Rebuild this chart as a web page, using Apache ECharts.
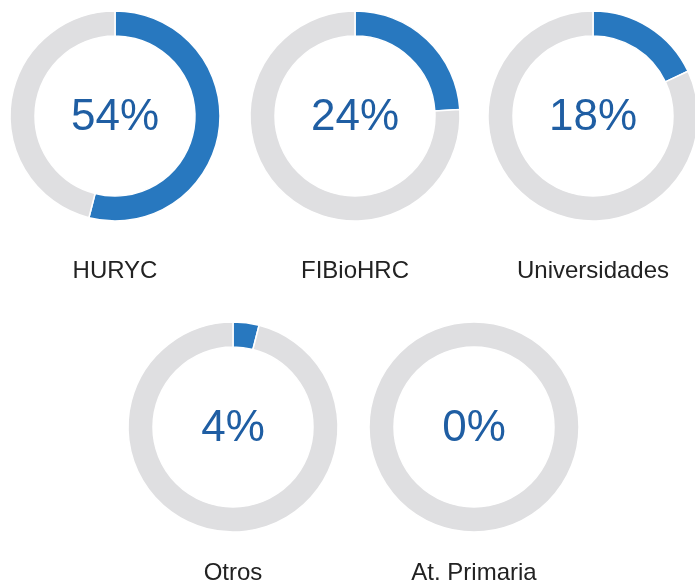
<!DOCTYPE html>
<html>
<head>
<meta charset="utf-8">
<style>
  html, body { margin: 0; padding: 0; background: #fff; }
  #chart { width: 695px; height: 580px; }
</style>
<script src="https://cdn.jsdelivr.net/npm/echarts@6/dist/echarts.min.js"></script>
</head>
<body>
<div id="chart"></div>
<script>
// datos
const categories = ['HURYC', 'FIBioHRC', 'Universidades', 'Otros', 'At. Primaria'];
const percents = [54, 24, 18, 4, 0];

// posiciones de cada donut y de su nombre
const centers = [[115, 116], [355, 116], [593, 116], [233, 427], [474, 427]];
const nameY = [271, 271, 271, 573, 573];

const BLUE = '#2878bf';
const GRAY = '#dfdfe1';
const TEXT_BLUE = '#1f5ea3';
const FONT = '"Liberation Sans", Arial, sans-serif';

const chart = echarts.init(document.getElementById('chart'), null, { renderer: 'canvas' });

const series = categories.map((name, i) => ({
  name,
  type: 'pie',
  silent: true,
  animation: false,
  radius: [80, 105],
  center: centers[i],
  startAngle: 90,
  clockwise: true,
  avoidLabelOverlap: false,
  labelLine: { show: false },
  itemStyle: { borderColor: '#fff', borderWidth: 1.5 },
  label: { show: false },
  data: [
    { value: percents[i], name, itemStyle: { color: BLUE } },
    { value: 100 - percents[i], name: 'resto', itemStyle: { color: GRAY } },
  ],
}));

// porcentaje en el centro y nombre debajo
const titles = [];
categories.forEach((name, i) => {
  titles.push({
    text: `${percents[i]}%`,
    left: centers[i][0],
    top: centers[i][1] + 2,
    textAlign: 'center',
    textVerticalAlign: 'middle',
    padding: 0,
    textStyle: { color: TEXT_BLUE, fontSize: 44, fontWeight: 'normal', fontFamily: FONT },
  });
  titles.push({
    text: name,
    left: centers[i][0],
    top: nameY[i],
    textAlign: 'center',
    textVerticalAlign: 'middle',
    padding: 0,
    textStyle: { color: '#222', fontSize: 24, fontWeight: 'normal', fontFamily: FONT },
  });
});

chart.setOption({
  backgroundColor: '#fff',
  title: titles,
  series,
});
</script>
</body>
</html>
